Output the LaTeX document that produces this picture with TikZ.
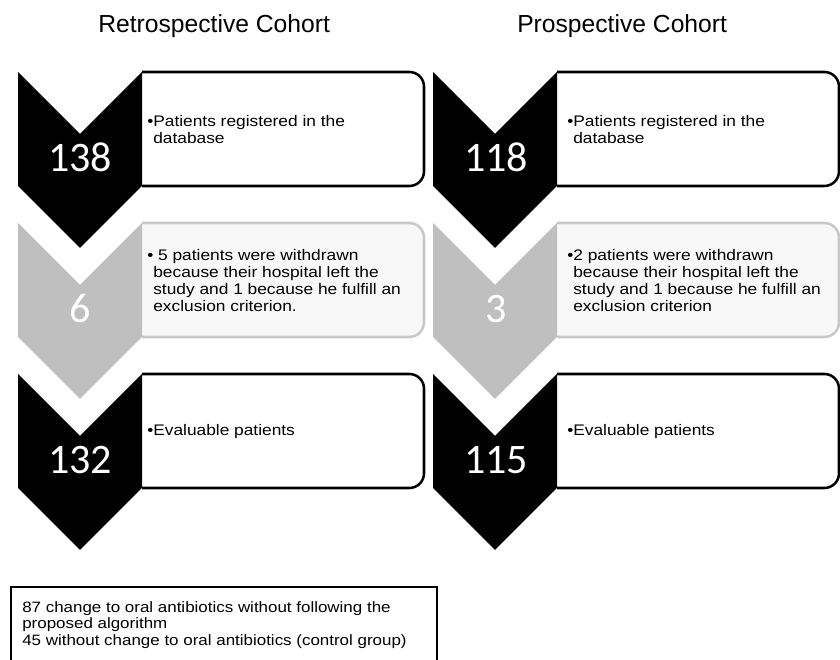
\documentclass[tikz,border=0pt]{standalone}
\usepackage{fontspec}
\setmainfont{Liberation Sans}
\newfontfamily\bodyfont{Liberation Sans}[FakeStretch=1.13]
\newfontfamily\numfont{Carlito}
\definecolor{lightgrey}{RGB}{191,191,191}
\definecolor{paleframe}{RGB}{200,200,200}
\definecolor{palefill}{RGB}{248,248,248}

\begin{document}
\begin{tikzpicture}[x=0.75pt, y=0.75pt,
    chevron/.style={fill=black},
    greychevron/.style={fill=lightgrey},
    stepbox/.style={fill=white, draw=black, line width=1.9pt, rounded corners=11pt},
    greybox/.style={fill=palefill, draw=paleframe, line width=1.9pt, rounded corners=11pt},
    count/.style={font=\numfont\fontsize{31.5}{36}\selectfont, text=white, anchor=base, inner sep=0pt},
    info/.style={font=\bodyfont\fontsize{11.5}{12.75}\selectfont, align=left, anchor=west, inner sep=0pt},
    heading/.style={font=\fontsize{18.5}{22}\selectfont, anchor=base west, inner sep=0pt}]

    \useasboundingbox (0,0) rectangle (840,660);

    % titles
    \node[heading] (retro) at (98,627) {Retrospective Cohort};
    \node[heading] (prosp) at (517,627) {Prospective Cohort};

    % top left corner of each step
    \coordinate (L1) at (18,588);
    \coordinate (L2) at (18,437);
    \coordinate (L3) at (18,286);
    \coordinate (R1) at (433,588);
    \coordinate (R2) at (433,437);
    \coordinate (R3) at (433,286);

    % text boxes behind the chevrons
    \filldraw[stepbox] (L1) ++(124,0) -- ++(282,0) -- ++(0,-114) -- ++(-282,0);
    \filldraw[greybox] (L2) ++(124,0) -- ++(282,0) -- ++(0,-114) -- ++(-282,0);
    \filldraw[stepbox] (L3) ++(124,0) -- ++(282,0) -- ++(0,-114) -- ++(-282,0);
    \filldraw[stepbox] (R1) ++(124,0) -- ++(282,0) -- ++(0,-114) -- ++(-282,0);
    \filldraw[greybox] (R2) ++(124,0) -- ++(282,0) -- ++(0,-114) -- ++(-282,0);
    \filldraw[stepbox] (R3) ++(124,0) -- ++(282,0) -- ++(0,-114) -- ++(-282,0);

    % chevrons
    \fill[chevron] (L1) -- ++(62,-62) -- ++(62,62) -- ++(0,-114) -- ++(-62,-62) -- ++(-62,62) -- cycle;
    \fill[greychevron] (L2) -- ++(62,-62) -- ++(62,62) -- ++(0,-114) -- ++(-62,-62) -- ++(-62,62) -- cycle;
    \fill[chevron] (L3) -- ++(62,-62) -- ++(62,62) -- ++(0,-114) -- ++(-62,-62) -- ++(-62,62) -- cycle;
    \fill[chevron] (R1) -- ++(62,-62) -- ++(62,62) -- ++(0,-114) -- ++(-62,-62) -- ++(-62,62) -- cycle;
    \fill[greychevron] (R2) -- ++(62,-62) -- ++(62,62) -- ++(0,-114) -- ++(-62,-62) -- ++(-62,62) -- cycle;
    \fill[chevron] (R3) -- ++(62,-62) -- ++(62,62) -- ++(0,-114) -- ++(-62,-62) -- ++(-62,62) -- cycle;

    % counts
    \path (L1) ++(62,-100) node[count] (n138) {138};
    \path (L2) ++(62,-100) node[count] (n6) {6};
    \path (L3) ++(62,-100) node[count] (n132) {132};
    \path (R1) ++(63,-100) node[count] (n118) {118};
    \path (R2) ++(63,-100) node[count] (n3) {3};
    \path (R3) ++(63,-100) node[count] (n115) {115};

    % retrospective texts
    \path (L1) ++(129,-58) node[info] (regretro) {\textbullet Patients registered in the\\\phantom{\textbullet}database};
    \path (L2) ++(129,-58) node[info] (outretro) {\textbullet\ 5 patients were withdrawn\\\phantom{\textbullet}because their hospital left the\\\phantom{\textbullet}study and 1 because he fulfill an\\\phantom{\textbullet}exclusion criterion.};
    \path (L3) ++(129,-58) node[info] (evalretro) {\textbullet Evaluable patients};

    % prospective texts
    \path (R1) ++(134,-58) node[info] (regprosp) {\textbullet Patients registered in the\\\phantom{\textbullet}database};
    \path (R2) ++(134,-58) node[info] (outprosp) {\textbullet 2 patients were withdrawn\\\phantom{\textbullet}because their hospital left the\\\phantom{\textbullet}study and 1 because he fulfill an\\\phantom{\textbullet}exclusion criterion};
    \path (R3) ++(134,-58) node[info] (evalprosp) {\textbullet Evaluable patients};

    % note box at the bottom
    \draw[fill=white, line width=2.2pt] (11,73) rectangle (437,-20);
    \node[info, anchor=north west, font=\bodyfont\fontsize{11.25}{12.4}\selectfont] (note) at (22,59)
        {87 change to oral antibiotics without following the\\proposed algorithm\\45 without change to oral antibiotics (control group)};
\end{tikzpicture}
\end{document}
